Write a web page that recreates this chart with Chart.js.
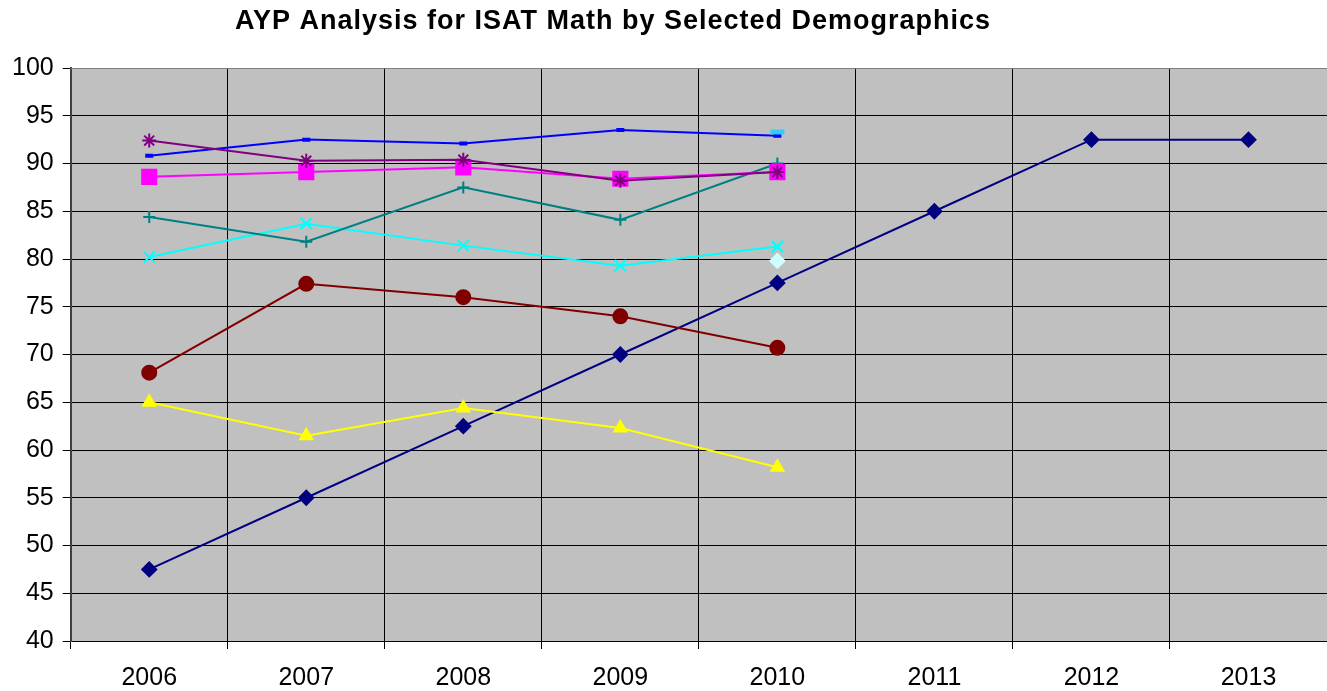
<!DOCTYPE html>
<html>
<head>
<meta charset="utf-8">
<script src="https://cdn.jsdelivr.net/npm/chart.js@4.4.1/dist/chart.umd.min.js"></script>
<style>
  html, body { margin: 0; padding: 0; background: #fff; }
</style>
</head>
<body>
<canvas id="aypChart" width="1327" height="691"></canvas>
<script>
const chartTitle = 'AYP Analysis for ISAT Math by Selected Demographics';
const years = ['2006', '2007', '2008', '2009', '2010', '2011', '2012', '2013'];
const yTicks = [40, 100, 5]; // min, max, step

// values
const aypTarget = [47.5, 55, 62.5, 70, 77.5, 85, 92.5, 92.5];
const blueSeries = [90.8, 92.5, 92.1, 93.5, 92.9, null, null, null];
const purpleSeries = [92.4, 90.3, 90.4, 88.2, 89.1, null, null, null];
const magentaSeries = [88.6, 89.1, 89.6, 88.4, 89.1, null, null, null];
const tealSeries = [84.4, 81.8, 87.5, 84.1, 90.0, null, null, null];
const cyanSeries = [80.2, 83.7, 81.4, 79.3, 81.3, null, null, null];
const darkRedSeries = [68.1, 77.4, 76.0, 74.0, 70.7, null, null, null];
const yellowSeries = [65.0, 61.5, 64.4, 62.3, 58.2, null, null, null];
const skyPoint = [null, null, null, null, 93.3, null, null, null];
const paleCyanPoint = [null, null, null, null, 79.8, null, null, null];

const FONT = '"Liberation Sans", Arial, sans-serif';

function line(data, color, style, radius, extra) {
    return Object.assign({
        data: data,
        borderColor: color,
        backgroundColor: color,
        pointBackgroundColor: color,
        pointBorderColor: color,
        pointStyle: style,
        pointRadius: radius,
        pointHoverRadius: radius,
        pointBorderWidth: 2,
        borderWidth: 2,
        tension: 0,
        spanGaps: false
    }, extra || {});
}

const plotBackground = {
    id: 'plotBackground',
    beforeDraw(chart) {
        const { ctx, chartArea: a } = chart;
        ctx.save();
        ctx.fillStyle = '#C0C0C0';
        ctx.fillRect(a.left, a.top, a.right - a.left, a.bottom - a.top);
        ctx.restore();
    },
    beforeDatasetsDraw(chart) {
        const { ctx, chartArea: a } = chart;
        ctx.save();
        ctx.strokeStyle = '#808080';
        ctx.lineWidth = 1;
        ctx.beginPath();
        ctx.moveTo(a.left, a.top + 0.5);
        ctx.lineTo(a.right, a.top + 0.5);
        ctx.stroke();
        ctx.restore();
    },
    afterDraw(chart) {
        const ctx = chart.ctx;
        ctx.save();
        ctx.font = 'bold 27px ' + FONT;
        ctx.letterSpacing = '1px';
        ctx.fillStyle = '#000';
        ctx.textAlign = 'center';
        ctx.textBaseline = 'alphabetic';
        ctx.fillText(chartTitle, 613, 29);
        ctx.restore();
    }
};

new Chart(document.getElementById('aypChart'), {
    type: 'line',
    data: {
        labels: years,
        datasets: [
            line(skyPoint, '#33CCFF', 'line', 7, { pointBorderWidth: 5, order: 0 }),
            line(paleCyanPoint, '#CCFFFF', 'rectRot', 7, { order: 1 }),
            line(purpleSeries, '#800080', 'star', 7, { order: 2 }),
            line(magentaSeries, '#FF00FF', 'rect', 10, { order: 3 }),
            line(tealSeries, '#008080', 'cross', 6, { order: 4 }),
            line(blueSeries, '#0000FF', 'line', 4, { pointBorderWidth: 4, order: 5 }),
            line(cyanSeries, '#00FFFF', 'crossRot', 8, { order: 6 }),
            line(darkRedSeries, '#800000', 'circle', 7, { order: 7 }),
            line(yellowSeries, '#FFFF00', 'triangle', 7, { order: 8 }),
            line(aypTarget, '#000080', 'rectRot', 7, { order: 9 })
        ]
    },
    options: {
        responsive: false,
        animation: false,
        layout: { autoPadding: false, padding: { top: 68, right: 0, left: 3, bottom: 0 } },
        plugins: {
            legend: { display: false },
            title: { display: false },
            tooltip: { enabled: false }
        },
        scales: {
            x: {
                offset: true,
                afterFit(scale) {
                    scale.height = 50;
                    scale.paddingRight = 0;
                    scale.paddingLeft = 0;
                },
                grid: {
                    offset: true,
                    color: '#000',
                    lineWidth: 1,
                    tickLength: 8,
                    tickColor: '#000'
                },
                border: { color: '#000', width: 1 },
                ticks: { color: '#000', font: { family: FONT, size: 25 }, padding: 14, maxRotation: 0 }
            },
            y: {
                min: yTicks[0],
                max: yTicks[1],
                ticks: {
                    stepSize: yTicks[2],
                    color: '#000',
                    font: { family: FONT, size: 25 },
                    padding: 9
                },
                grid: {
                    color: '#000',
                    lineWidth: 1,
                    tickLength: 8,
                    tickColor: '#000'
                },
                border: { color: '#404040', width: 2 }
            }
        }
    },
    plugins: [plotBackground]
});
</script>
</body>
</html>
